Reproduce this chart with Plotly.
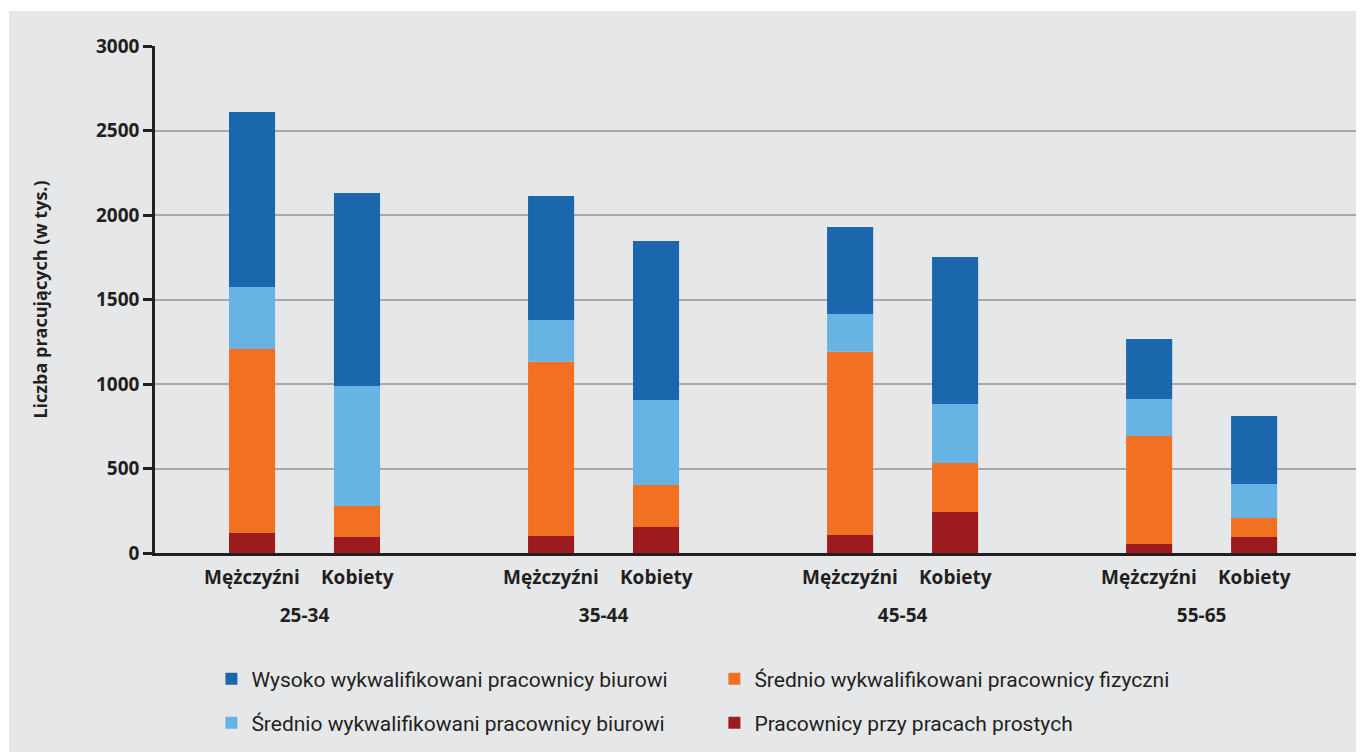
import plotly.graph_objects as go

ages = ["25-34", "35-44", "45-54", "55-65"]
genders = ["Mężczyźni", "Kobiety"]

# values in thousands, bottom to top of each stack
proste = {"Mężczyźni": [118, 101, 107, 53], "Kobiety": [95, 154, 243, 95]}
fizyczni = {"Mężczyźni": [1089, 1031, 1084, 639], "Kobiety": [183, 248, 290, 112]}
biurowi_sr = {"Mężczyźni": [367, 247, 223, 219], "Kobiety": [710, 503, 349, 201]}
biurowi_wys = {"Mężczyźni": [1035, 733, 515, 355], "Kobiety": [1142, 941, 869, 403]}

series = [
    ("Pracownicy przy pracach prostych", proste, "#9b1b1f", "legend2", 4),
    ("Średnio wykwalifikowani pracownicy fizyczni", fizyczni, "#f27021", "legend", 2),
    ("Średnio wykwalifikowani pracownicy biurowi", biurowi_sr, "#67b3e3", "legend2", 3),
    ("Wysoko wykwalifikowani pracownicy biurowi", biurowi_wys, "#1b67ad", "legend", 1),
]

ink = "#231f20"
bargap = 0.298
bargroupgap = 0.561

fig = go.Figure()
for g in genders:
    base = [0] * len(ages)
    for name, vals, color, leg, rank in series:
        fig.add_trace(go.Bar(
            x=ages, y=vals[g], base=base, name=name,
            offsetgroup=g, marker_color=color, marker_line_width=0,
            legend=leg, legendrank=rank, legendgroup=name,
            showlegend=(g == "Mężczyźni"),
        ))
        base = [b + v for b, v in zip(base, vals[g])]

# gender labels under each bar
off = (1 - bargap) / 4
for i, a in enumerate(ages):
    for j, g in enumerate(genders):
        fig.add_annotation(
            x=i + (-off if j == 0 else off), xref="x",
            y=-0.047, yref="paper", yanchor="middle",
            text=g, showarrow=False,
            font=dict(family="Open Sans", size=19, color=ink, weight="bold"),
        )

# page has an 8px body margin, so the figure sits at (8, 8)
W, H = 1356, 744
ml, mr, mt, mb = 147, 0, 38, 199
pw, ph = W - ml - mr, H - mt - mb
fig.add_shape(type="rect", xref="paper", yref="paper",
              x0=(1 - ml) / pw, x1=1.02, y0=-0.45, y1=(H - mb - 3) / ph,
              fillcolor="#e6e7e9", line_width=0, layer="below")

legfont = dict(family="Roboto", size=21, color=ink)
fig.update_layout(
    width=W, height=H,
    margin=dict(l=ml, r=mr, t=mt, b=mb, autoexpand=False),
    paper_bgcolor="white", plot_bgcolor="rgba(0,0,0,0)",
    barmode="group", bargap=bargap, bargroupgap=bargroupgap,
    font=dict(family="Open Sans", color=ink),
    legend=dict(orientation="h", xref="container", yref="container",
                x=0.150, y=1 - 671 / H, yanchor="middle", xanchor="left",
                entrywidth=458, font=legfont, bgcolor="rgba(0,0,0,0)"),
    legend2=dict(orientation="h", xref="container", yref="container",
                 x=0.150, y=1 - 715 / H, yanchor="middle", xanchor="left",
                 entrywidth=458, font=legfont, bgcolor="rgba(0,0,0,0)"),
)
fig.update_xaxes(
    type="category", range=[-0.5, 3.543],
    showline=True, linecolor=ink, linewidth=3,
    ticks="", ticklabelstandoff=43, showgrid=False,
    tickfont=dict(family="Open Sans", size=19, color=ink, weight="bold"),
)
fig.update_yaxes(
    range=[0, 3000], tickvals=[0, 500, 1000, 1500, 2000, 2500, 3000],
    showline=True, linecolor=ink, linewidth=2.5,
    ticks="outside", ticklen=9, tickwidth=2.5, tickcolor=ink,
    showgrid=True, gridcolor="#a7a9ac", gridwidth=1.5, zeroline=False,
    tickfont=dict(family="Open Sans", size=19, color=ink, weight="bold"),
    title=dict(text="Liczba pracujących (w tys.)", standoff=44,
               font=dict(family="Open Sans", size=18, color=ink, weight="bold")),
)

fig.write_html("out.html")
